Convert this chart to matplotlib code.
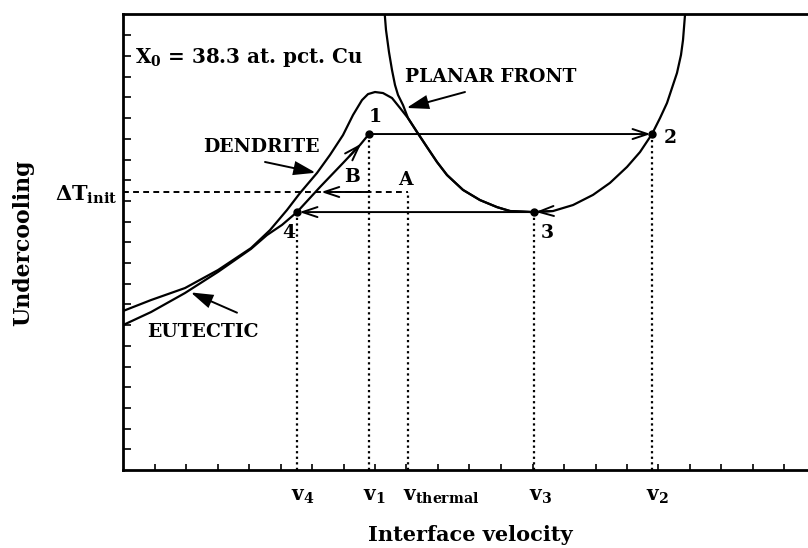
import matplotlib
matplotlib.use('Agg')
import matplotlib.pyplot as plt
from matplotlib.patches import FancyArrowPatch

plt.rcParams['font.family'] = ['DejaVu Serif']
plt.rcParams['mathtext.fontset'] = 'custom'
plt.rcParams['mathtext.rm'] = 'DejaVu Serif:bold'
plt.rcParams['mathtext.it'] = 'DejaVu Serif:bold'
plt.rcParams['mathtext.bf'] = 'DejaVu Serif:bold'

# ---- data (axis units: one tick spacing = 1) ----
dendrite_v = [0.000, 0.889, 1.968, 3.016, 4.063, 4.667, 5.206, 5.619, 6.159, 6.571,
              6.984, 7.302, 7.587, 7.778, 8.000, 8.254, 8.540, 8.794, 9.048, 9.333,
              9.651, 9.968, 10.286, 10.794, 11.333, 11.873, 12.286, 13.016]
dendrite_dt = [7.68, 8.21, 8.79, 9.66, 10.72, 11.59, 12.56, 13.38, 14.35, 15.22,
               16.18, 17.15, 17.87, 18.16, 18.26, 18.21, 17.97, 17.49, 17.00, 16.33,
               15.60, 14.88, 14.25, 13.53, 13.04, 12.70, 12.51, 12.46]

eutectic_v = [0.000, 0.889, 1.968, 3.016, 4.063, 4.571, 5.048, 5.524, 6.254, 6.984,
              7.524, 7.810]
eutectic_dt = [7.00, 7.63, 8.55, 9.57, 10.68, 11.35, 11.84, 12.46, 13.67, 14.83,
               15.70, 16.23]

planar_v = [8.286, 8.349, 8.444, 8.540, 8.635, 8.730, 8.889, 9.048, 9.333, 9.651,
            9.968, 10.286, 10.794, 11.333, 11.873, 12.286, 13.016, 13.651, 14.286,
            14.921, 15.460, 16.000, 16.413, 16.794, 17.048, 17.270, 17.587, 17.714,
            17.778, 17.841, 17.873]
planar_dt = [22.46, 21.26, 20.19, 19.32, 18.60, 18.12, 17.63, 17.00, 16.33, 15.60,
             14.88, 14.25, 13.53, 13.04, 12.70, 12.51, 12.46, 12.51, 12.80,
             13.29, 13.87, 14.64, 15.36, 16.23, 17.00, 17.73, 19.18, 20.05,
             20.77, 21.98, 22.46]

v1, v2, v3, v4, v_thermal = 7.81, 16.79, 13.05, 5.52, 9.05
dT_1, dT_3, dT_init = 16.23, 12.46, 13.43

state_labels = ['1', '2', '3', '4']
state_v = [v1, v2, v3, v4]
state_dt = [dT_1, dT_1, dT_3, dT_3]

velocity_labels = [r'$\mathrm{v_{4}}$', r'$\mathrm{v_{1}}$', r'$\mathrm{v_{thermal}}$',
                   r'$\mathrm{v_{3}}$', r'$\mathrm{v_{2}}$']
velocity_values = [v4, v1, v_thermal, v3, v2]

# ---- figure ----
W, H = 808, 548
fig = plt.figure(figsize=(W / 100, H / 100), dpi=100)
ax = fig.add_axes([123 / W, 78 / H, 1 - 123 / W, (470 - 14) / H])
ax.set_xlim(0, 685 / 31.5)
ax.set_ylim(0, 456 / 20.7)

for s in ['left', 'bottom', 'top']:
    ax.spines[s].set_linewidth(2.0)
ax.spines['right'].set_visible(False)

ax.set_xticks(range(1, 22))
ax.set_yticks(range(1, 22))
ax.tick_params(axis='x', direction='in', length=4, width=1.2, labelbottom=False, top=False)
ax.tick_params(axis='y', direction='in', length=6, width=1.2, labelleft=False, right=False)

lw = 1.6
ax.plot(dendrite_v, dendrite_dt, color='black', lw=lw, solid_joinstyle='round')
ax.plot(eutectic_v, eutectic_dt, color='black', lw=lw, solid_joinstyle='round')
ax.plot(planar_v, planar_dt, color='black', lw=lw, solid_joinstyle='round')

# dotted verticals
for v, t in zip(state_v, state_dt):
    ax.plot([v, v], [0, t], color='black', lw=1.6, ls=(0, (1, 1.5)))
ax.plot([v_thermal, v_thermal], [0, dT_init], color='black', lw=1.6, ls=(0, (1, 1.5)))
ax.plot([0, v_thermal], [dT_init, dT_init], color='black', lw=1.4, ls=(0, (3, 2.2)))

# state points
ax.plot(state_v, state_dt, 'o', color='black', ms=5)


def arrow(p0, p1, style='->', hl=0.9, hw=0.3, lw_=1.4):
    a = FancyArrowPatch(p0, p1, arrowstyle=f'{style},head_length={hl},head_width={hw}',
                        mutation_scale=12, lw=lw_, color='black',
                        shrinkA=0, shrinkB=0, joinstyle='miter')
    ax.add_patch(a)


# transitions
arrow((v1, dT_1), (v2 - 0.04, dT_1))
arrow((v3, dT_3), (v4 + 0.08, dT_3))
arrow((13.651, 12.51), (13.10, 12.465))
arrow((7.20, 15.18), (7.56, 15.76))
arrow((7.8, dT_init), (6.29, dT_init))

# annotation arrows (filled heads)
arrow((10.857, 18.26), (9.00, 17.49), style='-|>', hl=1.1, hw=0.35)
arrow((4.508, 14.88), (6.12, 14.36), style='-|>', hl=1.1, hw=0.35)
arrow((3.619, 7.60), (2.15, 8.58), style='-|>', hl=1.1, hw=0.35)

fs = 13.5
ax.text(0.38, 19.95, r'$\mathrm{X_0}$ = 38.3 at. pct. Cu', fontsize=14.3, fontweight='bold',
        ha='left', va='center')
ax.text(8.95, 18.99, 'PLANAR FRONT', fontsize=fs, fontweight='bold', ha='left', va='center')
ax.text(2.54, 15.60, 'DENDRITE', fontsize=fs, fontweight='bold', ha='left', va='center')
ax.text(0.76, 6.67, 'EUTECTIC', fontsize=fs, fontweight='bold', ha='left', va='center')

num_pos = [(8.0, 17.05), (17.37, 16.04), (13.46, 11.45), (5.27, 11.45)]
for lab, (x, y) in zip(state_labels, num_pos):
    ax.text(x, y, lab, fontsize=fs, fontweight='bold', ha='center', va='center')
ax.text(7.27, 14.15, 'B', fontsize=fs, fontweight='bold', ha='center', va='center')
ax.text(8.95, 14.01, 'A', fontsize=fs, fontweight='bold', ha='center', va='center')

# velocity labels under axis
for lab, v in zip(velocity_labels, velocity_values):
    ax.annotate(lab, xy=(v, 0), xycoords=('data', 'axes fraction'),
                xytext=(-4, -12), textcoords='offset points',
                ha='left', va='top', fontsize=14.5)

# delta T init label
ax.annotate(r'$\Delta\mathrm{T_{init}}$', xy=(0, dT_init), xycoords='data',
            xytext=(-4, -2), textcoords='offset points', ha='right', va='center',
            fontsize=15, annotation_clip=False)

fig.text(470 / W, 1 - 535 / H, 'Interface velocity', fontsize=15, fontweight='bold',
         ha='center', va='center')
fig.text(23 / W, 1 - 243 / H, 'Undercooling', fontsize=15.8, fontweight='bold',
         ha='center', va='center', rotation=90)

fig.savefig('out.png', dpi=100)
